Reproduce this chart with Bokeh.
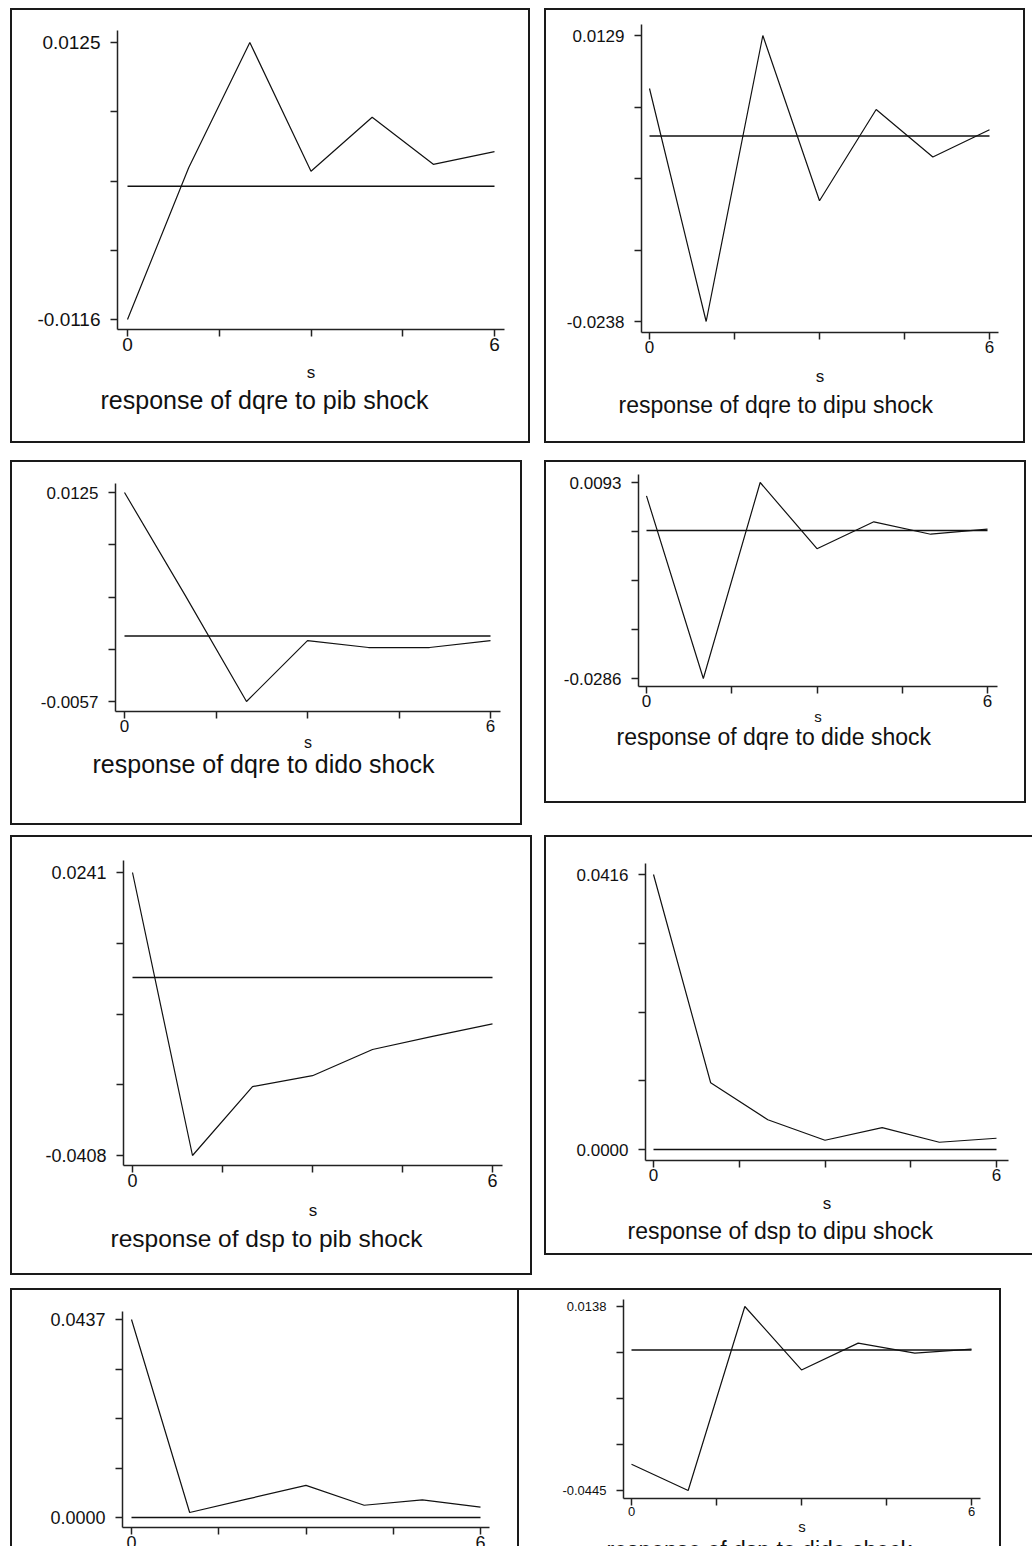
from bokeh.plotting import figure
from bokeh.models import Range1d, FixedTicker, Title
from bokeh.layouts import row, column
from bokeh.embed import file_html
from bokeh.resources import INLINE

# ---------------- data ----------------
steps = [0, 1, 2, 3, 4, 5, 6]
zero_x = [0, 6]
zero_y = [0, 0]
x_ticks = [0, 1.5, 3, 4.5, 6]
x_tick_labels = ["0", "", "", "", "6"]

dqre_pib = [-0.0116, 0.0016, 0.0125, 0.0013, 0.0060, 0.0019, 0.0030]
dqre_dipu = [0.0061, -0.0238, 0.0129, -0.0083, 0.0034, -0.0027, 0.0008]
dqre_dido = [0.0125, 0.0035, -0.0057, -0.0004, -0.0010, -0.0010, -0.0004]
dqre_dide = [0.0067, -0.0286, 0.0093, -0.0035, 0.0017, -0.0007, 0.0003]
dsp_pib = [0.0241, -0.0408, -0.0250, -0.0225, -0.0165, -0.0135, -0.0106]
dsp_dipu = [0.0416, 0.0101, 0.0045, 0.0014, 0.0033, 0.0011, 0.0017]
dsp_dide = [0.0437, 0.0011, 0.0041, 0.0071, 0.0027, 0.0039, 0.0023]
dsp_dido = [-0.0362, -0.0445, 0.0138, -0.0063, 0.0022, -0.0010, 0.0003]

titles = [
    "response of dqre to pib shock",
    "response of dqre to dipu shock",
    "response of dqre to dido shock",
    "response of dqre to dide shock",
    "response of dsp to pib shock",
    "response of dsp to dipu shock",
    "response of dsp to dide shock",
    "response of dsp to dido shock",
]

FONT = "Liberation Sans"
INK = "#111111"
BOX = {"outline": "2px solid #1a1a1a", "outline-offset": "-2px"}


def panel(vals, title, W, H, bl, br, bt, bb, pads, fs_tick, fs_s, fs_title,
          title_off, s_standoff, t_standoff, margin):
    padl, padr, padt, padb = pads
    ymin = min(min(vals), 0.0)
    ymax = max(max(vals), 0.0)
    fw = W - bl - br
    fh = H - bt - bb
    dpx = 6.0 / (fw - padl - padr)
    dpy = (ymax - ymin) / (fh - padt - padb)
    p = figure(width=W, height=H, output_backend="svg", toolbar_location=None,
               x_range=Range1d(-padl * dpx, 6 + padr * dpx),
               y_range=Range1d(ymin - padb * dpy, ymax + padt * dpy),
               min_border_left=bl, min_border_right=br,
               min_border_top=bt, min_border_bottom=bb,
               x_axis_label="s",
               background_fill_color="white", border_fill_color=None)
    p.grid.visible = False
    p.outline_line_color = None

    yt = [ymin + (ymax - ymin) * k / 4.0 for k in range(5)]
    ylabels = {}
    for k, v in enumerate(yt):
        ylabels[v] = ("%.4f" % v) if k in (0, 4) else ""
    p.yaxis.ticker = FixedTicker(ticks=yt)
    p.yaxis.major_label_overrides = ylabels
    p.xaxis.ticker = FixedTicker(ticks=x_ticks)
    p.xaxis.major_label_overrides = dict(zip(x_ticks, x_tick_labels))

    for ax in (p.xaxis[0], p.yaxis[0]):
        ax.axis_line_color = "#222222"
        ax.axis_line_width = 1.5
        ax.major_tick_line_color = "#222222"
        ax.major_tick_line_width = 1.5
        ax.major_tick_out = 7
        ax.major_tick_in = 0
        ax.minor_tick_line_color = None
        ax.major_label_text_font = FONT
        ax.major_label_text_font_size = f"{fs_tick}px"
        ax.major_label_text_color = INK
    p.xaxis.major_label_standoff = 1
    p.yaxis.major_label_standoff = 10
    p.xaxis.axis_label_text_font = FONT
    p.xaxis.axis_label_text_font_size = f"{fs_s}px"
    p.xaxis.axis_label_text_font_style = "normal"
    p.xaxis.axis_label_text_color = INK
    p.xaxis.axis_label_standoff = s_standoff

    p.add_layout(Title(text=title, align="left", offset=title_off,
                       text_font=FONT, text_font_size=f"{fs_title}px",
                       text_font_style="normal", text_color=INK,
                       standoff=t_standoff),
                 "below")

    p.line(zero_x, zero_y, line_color=INK, line_width=1.5)
    p.line(steps, vals, line_color=INK, line_width=1.2)
    # each panel sits in its own framed box
    return column(p, margin=margin, styles=BOX)


b1 = panel(dqre_pib, titles[0], 520, 435, 107, 26, 22, 114, (10, 10, 12, 10),
           19, 17, 25, -17, 9, -1, (8, 0, 0, 10))
b2 = panel(dqre_dipu, titles[1], 481, 435, 97, 27, 16, 111, (8, 9, 11, 11),
           17, 17, 23, -23, 11, 2, (8, 0, 0, 14))
b3 = panel(dqre_dido, titles[2], 512, 365, 105, 22, 23, 114, (9, 10, 9, 10),
           17, 16, 25, -23, -1, -11, (17, 0, 0, 10))
b4 = panel(dqre_dide, titles[3], 482, 343, 94, 29, 14, 117, (8, 10, 8, 8),
           17, 15, 23, -22, -2, -12, (17, 0, 0, 22))
b5 = panel(dsp_pib, titles[4], 522, 440, 113, 30, 25, 110, (9, 10, 12, 10),
           18, 17, 24.5, -13, 11, 1, (10, 0, 0, 10))
b6 = panel(dsp_dipu, titles[5], 490, 420, 101, 26, 28, 95, (8, 12, 11, 11),
           17, 17, 23, -18, 10, 0, (10, 0, 0, 12))
b7 = panel(dsp_dide, titles[6], 509, 340, 112, 30, 23, 101, (9, 9, 8, 10),
           18, 16, 25, -15, -1, -11, (13, 0, 0, 10))
b8 = panel(dsp_dido, titles[7], 484, 340, 106, 21, 11, 130, (8, 9, 7, 8),
           13, 15, 23, -17, -1, -6, (13, 0, 0, -2))

layout = column(row(b1, b2), row(b3, b4), row(b5, b6), row(b7, b8),
                width=1032, height=1546, styles={"overflow": "hidden"})

open("out.html", "w").write(file_html(layout, INLINE))
